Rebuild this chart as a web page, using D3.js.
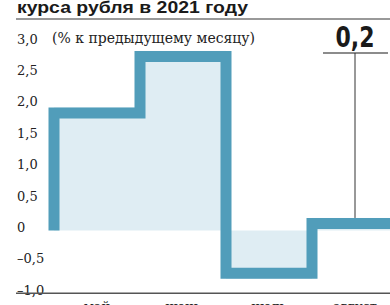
<!DOCTYPE html>
<html>
<head>
<meta charset="utf-8">
<script src="https://cdn.jsdelivr.net/npm/d3@7"></script>
<style>
  body { margin: 0; background: #fff; }
  svg { display: block; }
</style>
</head>
<body>
<svg class="chart"></svg>
<script>
// data
const months = ['май', 'июнь', 'июль', 'август'];
const values = [1.96, 2.86, -0.77, 0.2];
const yTicks = [-1, -0.5, 0, 0.5, 1, 1.5, 2, 2.5, 3];
const yTickLabels = ['–1,0', '–0,5', '0', '0,5', '1,0', '1,5', '2,0', '2,5', '3,0'];
const lastLabel = '0,2';

const svgWidth = 390;
const svgHeight = 305;
const lineColor = '#519dba';
const fillColor = '#dfedf3';
const sw = 11;

const svg = d3.select('.chart')
  .attr('width', svgWidth)
  .attr('height', svgHeight);

// scales
const x = d3.scaleBand()
  .domain(months)
  .range([54, 54 + 86 * months.length]);

const y = d3.scaleLinear()
  .domain([-1, 3])
  .range([293.3, 42.1]);

// title (cut off at top) and rule
svg.append('text')
  .attr('x', 17)
  .attr('y', 12.5)
  .attr('font-family', 'Liberation Sans, Arial, sans-serif')
  .attr('font-weight', 'bold')
  .attr('font-size', '17px')
  .attr('textLength', 231)
  .attr('lengthAdjust', 'spacingAndGlyphs')
  .attr('fill', '#1a1a1a')
  .text('курса рубля в 2021 году');

svg.append('line')
  .attr('x1', 16).attr('x2', svgWidth)
  .attr('y1', 19).attr('y2', 19)
  .attr('stroke', '#777')
  .attr('stroke-width', 1.5);

// fills
svg.selectAll('.area')
  .data(months)
  .enter()
  .append('rect')
  .attr('class', 'area')
  .attr('x', d => x(d))
  .attr('width', x.bandwidth())
  .attr('y', (d, i) => Math.min(y(0), y(values[i])))
  .attr('height', (d, i) => Math.abs(y(0) - y(values[i])))
  .attr('fill', fillColor);

// step line, drawn inside the value edge
const inset = v => y(v) + (v >= 0 ? sw / 2 : -sw / 2);
const pts = [[x(months[0]), y(0)]];
months.forEach((m, i) => {
  pts.push([x(m), inset(values[i])]);
  pts.push([x(m) + x.bandwidth(), inset(values[i])]);
});
svg.append('path')
  .attr('d', d3.line()(pts))
  .attr('fill', 'none')
  .attr('stroke', lineColor)
  .attr('stroke-width', sw)
  .attr('stroke-linejoin', 'miter')
  .attr('stroke-linecap', 'butt');

// y axis
const yAxis = svg.append('g')
  .attr('transform', 'translate(17,0)')
  .call(d3.axisLeft(y).tickValues(yTicks).tickSize(0).tickFormat((d, i) => yTickLabels[i]));
yAxis.select('.domain').remove();
yAxis.selectAll('text')
  .attr('x', 0)
  .attr('dy', '1')
  .attr('text-anchor', 'start')
  .attr('font-family', 'DejaVu Serif, serif')
  .attr('font-size', '13px')
  .attr('fill', '#222');

svg.append('text')
  .attr('x', 52)
  .attr('y', 43)
  .attr('font-family', 'DejaVu Serif, serif')
  .attr('font-size', '14px')
  .attr('fill', '#222')
  .text('(% к предыдущему месяцу)');

// x axis
svg.append('line')
  .attr('x1', 16).attr('x2', svgWidth)
  .attr('y1', y(-1)).attr('y2', y(-1))
  .attr('stroke', '#555')
  .attr('stroke-width', 1.5);

const xAxis = svg.append('g')
  .attr('transform', 'translate(0,' + y(-1) + ')')
  .call(d3.axisBottom(x).tickSize(0));
xAxis.select('.domain').remove();
xAxis.selectAll('text')
  .attr('y', 18)
  .attr('dy', 0)
  .attr('font-family', 'DejaVu Serif, serif')
  .attr('font-size', '13px')
  .attr('fill', '#222');

// annotation for last month
const lastX = x(months[months.length - 1]) + x.bandwidth() / 2;
svg.append('line')
  .attr('x1', 323).attr('x2', 388)
  .attr('y1', 53).attr('y2', 53)
  .attr('stroke', '#666')
  .attr('stroke-width', 1.5);
svg.append('line')
  .attr('x1', lastX).attr('x2', lastX)
  .attr('y1', 53).attr('y2', y(values[values.length - 1]))
  .attr('stroke', '#333')
  .attr('stroke-width', 1);
svg.append('text')
  .attr('x', lastX)
  .attr('y', 47)
  .attr('text-anchor', 'middle')
  .attr('font-family', 'Liberation Sans Narrow, DejaVu Sans Condensed, sans-serif')
  .attr('font-weight', 'bold')
  .attr('font-size', '28px')
  .attr('textLength', 39)
  .attr('lengthAdjust', 'spacingAndGlyphs')
  .attr('fill', '#1a1a1a')
  .text(lastLabel);
</script>
</body>
</html>
